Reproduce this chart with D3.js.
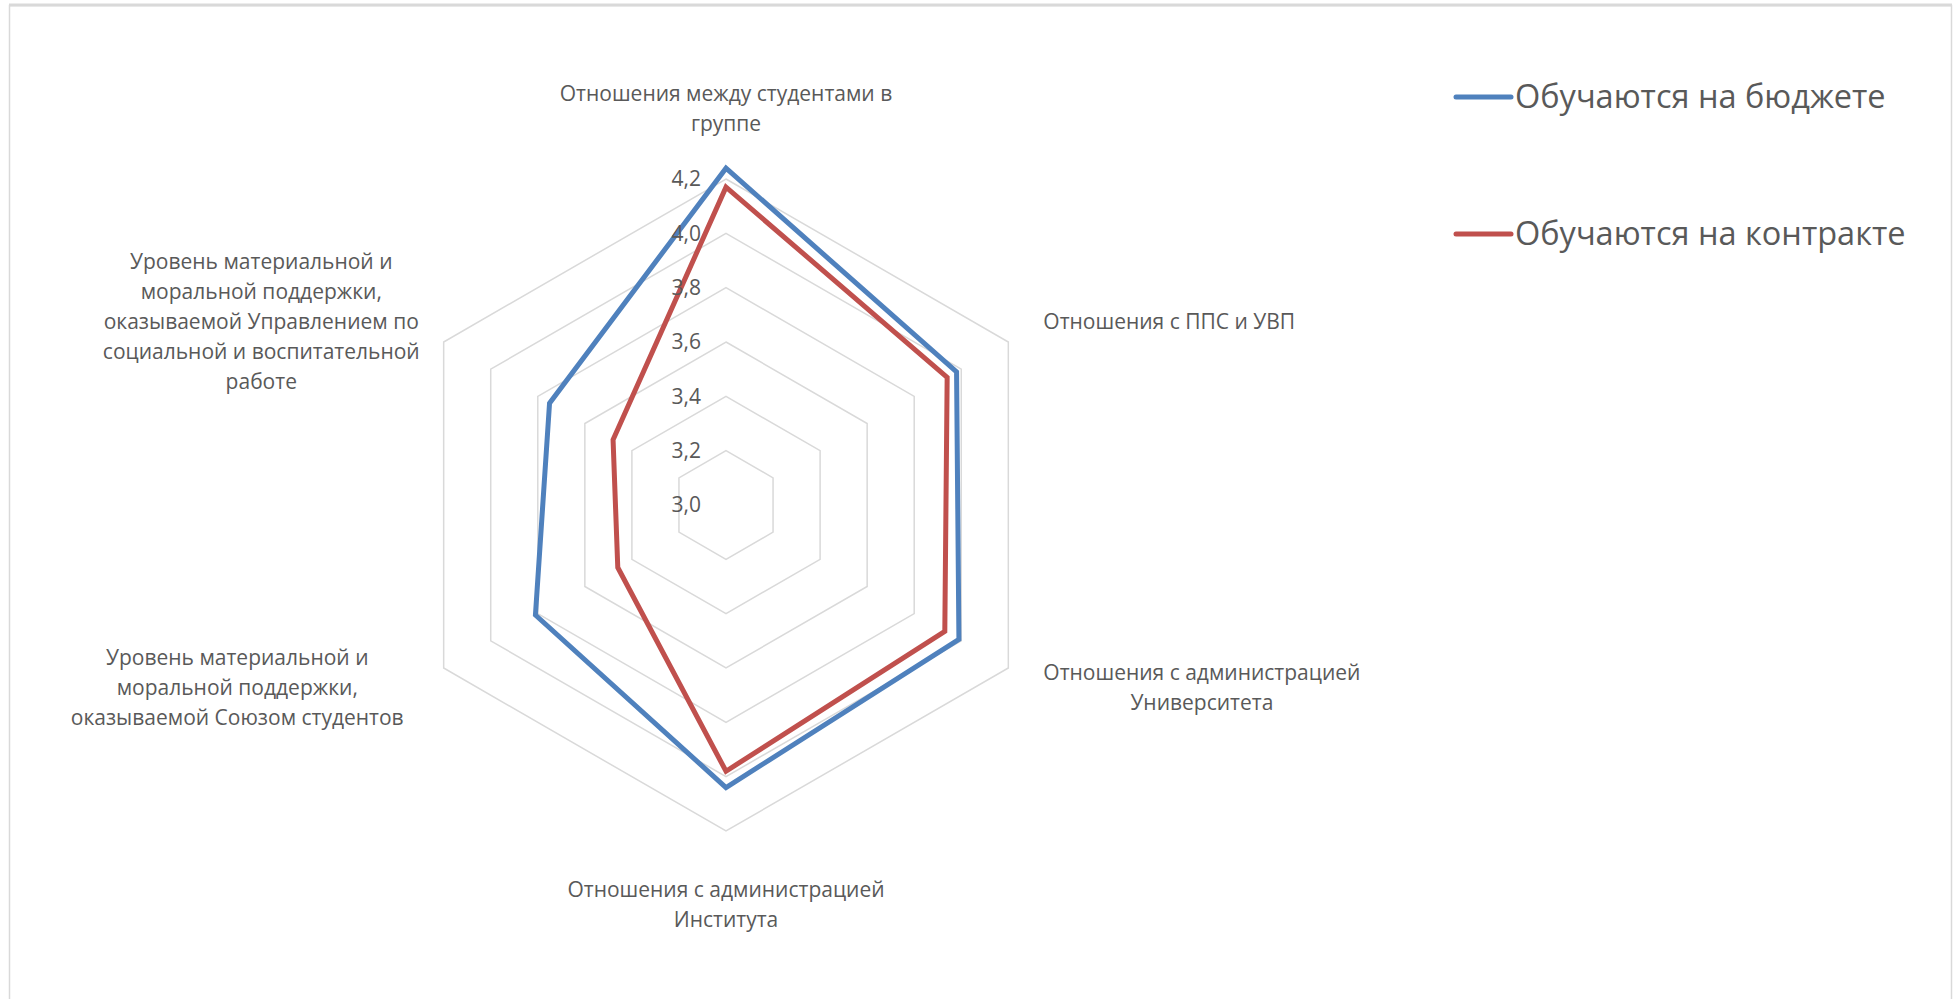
<!DOCTYPE html>
<html>
<head>
<meta charset="utf-8">
<script src="https://cdn.jsdelivr.net/npm/d3@7"></script>
<style>
  body { margin: 0; background: #fff; }
  svg { display: block; font-family: 'Open Sans', sans-serif; }
</style>
</head>
<body>
<svg width="1959" height="999"></svg>
<script>
const categories = [
  ['Отношения между студентами в', 'группе'],
  ['Отношения с ППС и УВП'],
  ['Отношения с администрацией', 'Университета'],
  ['Отношения с администрацией', 'Института'],
  ['Уровень материальной и', 'моральной поддержки,', 'оказываемой Союзом студентов'],
  ['Уровень материальной и', 'моральной поддержки,', 'оказываемой Управлением по', 'социальной и воспитательной', 'работе']
]
const budget = [4.24, 3.98, 3.99, 4.04, 3.81, 3.75]
const contract = [4.17, 3.94, 3.93, 3.98, 3.46, 3.48]
const seriesNames = ['Обучаются на бюджете', 'Обучаются на контракте']
const ticks = [3.0, 3.2, 3.4, 3.6, 3.8, 4.0, 4.2]

const svg = d3.select('svg'),
  width = +svg.attr('width'),
  height = +svg.attr('height')

const cx = 726,
  cy = 505,
  radius = 326

const textColor = '#595959'
const colors = ['#4f81bd', '#c0504d']

// chart area frame
svg
  .append('rect')
  .attr('x', 9.5)
  .attr('y', 5.5)
  .attr('width', 1942)
  .attr('height', height)
  .attr('fill', 'none')
  .attr('stroke', '#d9d9d9')
  .attr('stroke-width', 1.5)
svg
  .append('line')
  .attr('x1', 9)
  .attr('x2', 1952)
  .attr('y1', 5)
  .attr('y2', 5)
  .attr('stroke', '#d9d9d9')
  .attr('stroke-width', 3)

const r = d3.scaleLinear().domain([3, 4.2]).range([0, radius])
const angle = d3
  .scaleLinear()
  .domain([0, categories.length])
  .range([0, 2 * Math.PI])

const g = svg.append('g').attr('transform', `translate(${cx},${cy})`)

const ring = d3
  .lineRadial()
  .angle((d, i) => angle(i))
  .radius(d => r(d))
  .curve(d3.curveLinearClosed)

// grid rings
g.append('g')
  .selectAll('path')
  .data(ticks.slice(1))
  .enter()
  .append('path')
  .attr('d', t => ring(categories.map(() => t)))
  .attr('fill', 'none')
  .attr('stroke', '#d9d9d9')
  .attr('stroke-width', 1.5)

// series
const series = [budget, contract]
g.append('g')
  .selectAll('path')
  .data(series)
  .enter()
  .append('path')
  .attr('d', d => ring(d))
  .attr('fill', 'none')
  .attr('stroke', (d, i) => colors[i])
  .attr('stroke-width', 5)
  .attr('stroke-linejoin', 'miter')

// tick labels
g.append('g')
  .selectAll('text')
  .data(ticks)
  .enter()
  .append('text')
  .attr('x', -25)
  .attr('y', t => -r(t))
  .attr('dy', '0.35em')
  .attr('text-anchor', 'end')
  .attr('fill', textColor)
  .attr('font-size', 21)
  .text(t => d3.format('.1f')(t).replace('.', ','))

// category labels
const lineHeight = 30
categories.forEach((lines, i) => {
  const a = angle(i)
  const vx = Math.sin(a) * radius,
    vy = -Math.cos(a) * radius
  const label = g.append('text').attr('fill', textColor).attr('font-size', 21)
  const spans = label
    .selectAll('tspan')
    .data(lines)
    .enter()
    .append('tspan')
    .text(d => d)
  const widths = spans.nodes().map(n => n.getComputedTextLength())
  const w = d3.max(widths)
  const n = lines.length
  let centerX, firstY
  if (Math.abs(vx) < 1) {
    centerX = vx
    firstY = vy < 0 ? vy - 55 - (n - 1) * lineHeight : vy + 59
  } else {
    // gap between ring vertex and label block
    const gap = vx > 0 ? 35 : vy < 0 ? 24 : 40
    centerX = vx > 0 ? vx + gap + w / 2 : vx - gap - w / 2
    const mid = vy + (vy < 0 ? -20 : 20)
    firstY = mid - ((n - 1) * lineHeight) / 2
  }
  spans
    .attr('x', centerX)
    .attr('y', (d, j) => firstY + j * lineHeight)
    .attr('dy', '0.35em')
    .attr('text-anchor', 'middle')
})

// legend
const legend = svg
  .append('g')
  .selectAll('g')
  .data(seriesNames)
  .enter()
  .append('g')
  .attr('transform', (d, i) => `translate(1456,${97 + i * 137})`)

legend
  .append('line')
  .attr('x1', 0)
  .attr('x2', 55)
  .attr('stroke', (d, i) => colors[i])
  .attr('stroke-width', 5)
  .attr('stroke-linecap', 'round')

legend
  .append('text')
  .attr('x', 59)
  .attr('dy', '0.35em')
  .attr('fill', textColor)
  .attr('font-size', 32.5)
  .text(d => d)
</script>
</body>
</html>
